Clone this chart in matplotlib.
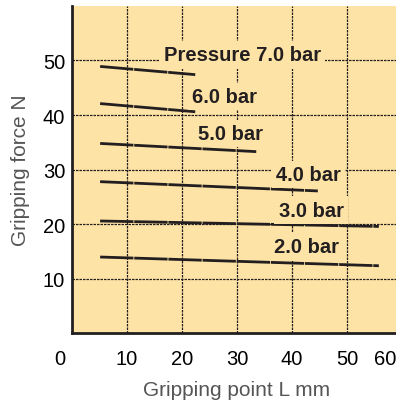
import matplotlib.pyplot as plt
from matplotlib.transforms import ScaledTranslation

# pressure curves: gripping point L (mm) -> gripping force (N)
pressures = ["Pressure 7.0 bar", "6.0 bar", "5.0 bar", "4.0 bar", "3.0 bar", "2.0 bar"]
line_x = [[5.1, 22.4], [5.1, 22.4], [5.1, 33.5], [5.1, 44.7], [5.1, 55.8], [5.1, 55.8]]
line_y = [[48.9, 47.4], [42.1, 40.6], [34.8, 33.3], [27.8, 26.1], [20.6, 19.6], [14.0, 12.4]]
label_x = [31.0, 27.8, 28.9, 43.0, 43.5, 42.7]
label_y = [51.0, 43.4, 36.6, 29.1, 22.6, 16.0]

x_ticks = [0, 10, 20, 30, 40, 50, 60]
y_ticks = [10, 20, 30, 40, 50]

fill = "#FEE3A6"
ink = "#231F20"

plt.rcParams["font.family"] = ["Liberation Sans", "DejaVu Sans"]

fig = plt.figure(figsize=(3.96, 4.02), dpi=100)
ax = fig.add_axes([0.182, 0.168, 0.833, 0.815])
ax.set_facecolor(fill)

for v in x_ticks[1:-1]:
    ax.axvline(v, color=ink, lw=0.9, ls=(0, (2, 0.8)), zorder=1)
for v in y_ticks:
    ax.axhline(v, color=ink, lw=0.9, ls=(0, (2, 0.8)), zorder=1)

for xs, ys in zip(line_x, line_y):
    ax.plot(xs, ys, color=ink, lw=2.0, ls=(0, (12, 0.3)), zorder=3)

for name, tx, ty in zip(pressures, label_x, label_y):
    ax.text(tx, ty, name, ha="center", va="center", fontsize=14.5,
            fontweight="bold", color=ink, zorder=4,
            bbox=dict(facecolor=fill, edgecolor="none", pad=3))

ax.set_xlim(0, 60)
ax.set_ylim(0, 60)
ax.set_xticks(x_ticks)
ax.set_yticks(y_ticks)
ax.tick_params(length=0, labelsize=14.5, colors="black")
ax.tick_params(axis="x", pad=11)
ax.tick_params(axis="y", pad=5)

# end labels are shifted inwards, as in the original drawing
xlabels = ax.get_xticklabels()
xlabels[0].set_transform(xlabels[0].get_transform() + ScaledTranslation(-0.12, 0, fig.dpi_scale_trans))
xlabels[-1].set_transform(xlabels[-1].get_transform() + ScaledTranslation(-0.17, 0, fig.dpi_scale_trans))

for side in ["top", "right"]:
    ax.spines[side].set_visible(False)
for side in ["left", "bottom"]:
    ax.spines[side].set_linewidth(2)
    ax.spines[side].set_color(ink)

ax.set_xlabel("Gripping point L mm", fontsize=15, color="#555555", labelpad=9)
ax.set_ylabel("Gripping force N", fontsize=15, color="#555555", labelpad=9)

plt.savefig("out.png", dpi=100)
